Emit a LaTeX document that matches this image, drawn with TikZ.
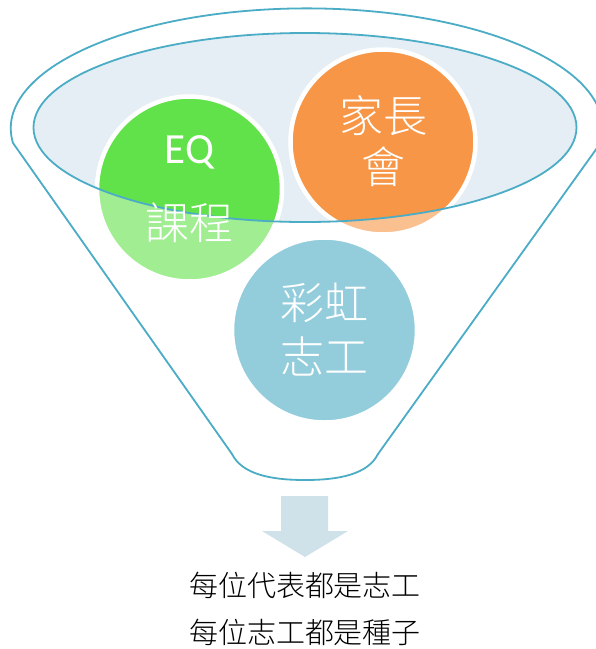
\documentclass[tikz,border=0pt]{standalone}
\usepackage{fontspec}
\newfontfamily\cjk{Noto Sans CJK TC}[UprightFont=* Light]
\newfontfamily\lat{Carlito}
\definecolor{rim}{HTML}{4BACC6}
\definecolor{bowl}{HTML}{E4EEF4}
\definecolor{eqgreen}{HTML}{62E24A}
\definecolor{parorange}{HTML}{F79646}
\definecolor{volblue}{HTML}{4BACC6}
\definecolor{arrowblue}{HTML}{CFE2EA}
\tikzset{
  ball/.style={circle, minimum size=185pt, inner sep=0pt, draw=white, line width=4.5pt},
  intext/.style={text=white, anchor=base, inner sep=0pt, font=\cjk\fontsize{44}{44}\selectfont},
  outtext/.style={text=black, anchor=base, inner sep=0pt, font=\cjk\fontsize{29}{29}\selectfont},
  rimline/.style={draw=rim, line width=1.8pt, line join=round}
}
\begin{document}
\begin{tikzpicture}[x=1pt,y=-1pt]
\useasboundingbox (0,0) rectangle (596,649);
\fill[white] (0,0) rectangle (596,649);
\begin{scope}
\clip (0,0) rectangle (596,649);
% bowl fill
\fill[bowl] (305,127.5) ellipse [x radius=271.5pt, y radius=94.5pt];
% circles
\node[ball, fill=eqgreen] (eq) at (189.5,189) {};
\node[ball, fill=parorange] (par) at (383,142) {};
\node[ball, fill=volblue] (vol) at (324.5,330) {};
% fade everything outside the bowl opening
\fill[white, fill opacity=0.4, even odd rule] (0,0) rectangle (596,649)
  (305,127.5) ellipse [x radius=271.5pt, y radius=94.5pt];
% rim outlines
\draw[rimline] (305,127.5) ellipse [x radius=271.5pt, y radius=94.5pt];
\coordinate (tl) at (13,143);
\coordinate (tr) at (597,143);
\coordinate (bl) at (232,454);
\coordinate (br) at (378,454);
\coordinate (bm) at (305,480);
\draw[rimline] (tl) arc [start angle=187, end angle=-7, x radius=296pt, y radius=120pt]
  -- (br) .. controls (368,474) and (340,480) .. (bm)
  .. controls (270,480) and (242,474) .. (bl) -- cycle;
\end{scope}
% texts in circles
\node[text=white, anchor=base, inner sep=0pt, font=\lat\fontsize{43}{43}\selectfont] (teq) at (189.5,163) {EQ};
\node[intext] (tcourse) at (189.5,239) {課程};
\node[intext] (tpar1) at (383,132) {家長};
\node[intext] (tpar2) at (383,183) {會};
\node[intext] (tvol1) at (324.5,319) {彩虹};
\node[intext] (tvol2) at (324.5,373) {志工};
% arrow
\fill[arrowblue] (281,496) -- (328,496) -- (328,531) -- (348,531) -- (305,557) -- (262,531) -- (281,531) -- cycle;
\node[outtext] (line1) at (305,596) {每位代表都是志工};
\node[outtext] (line2) at (305,643) {每位志工都是種子};
\end{tikzpicture}
\end{document}
